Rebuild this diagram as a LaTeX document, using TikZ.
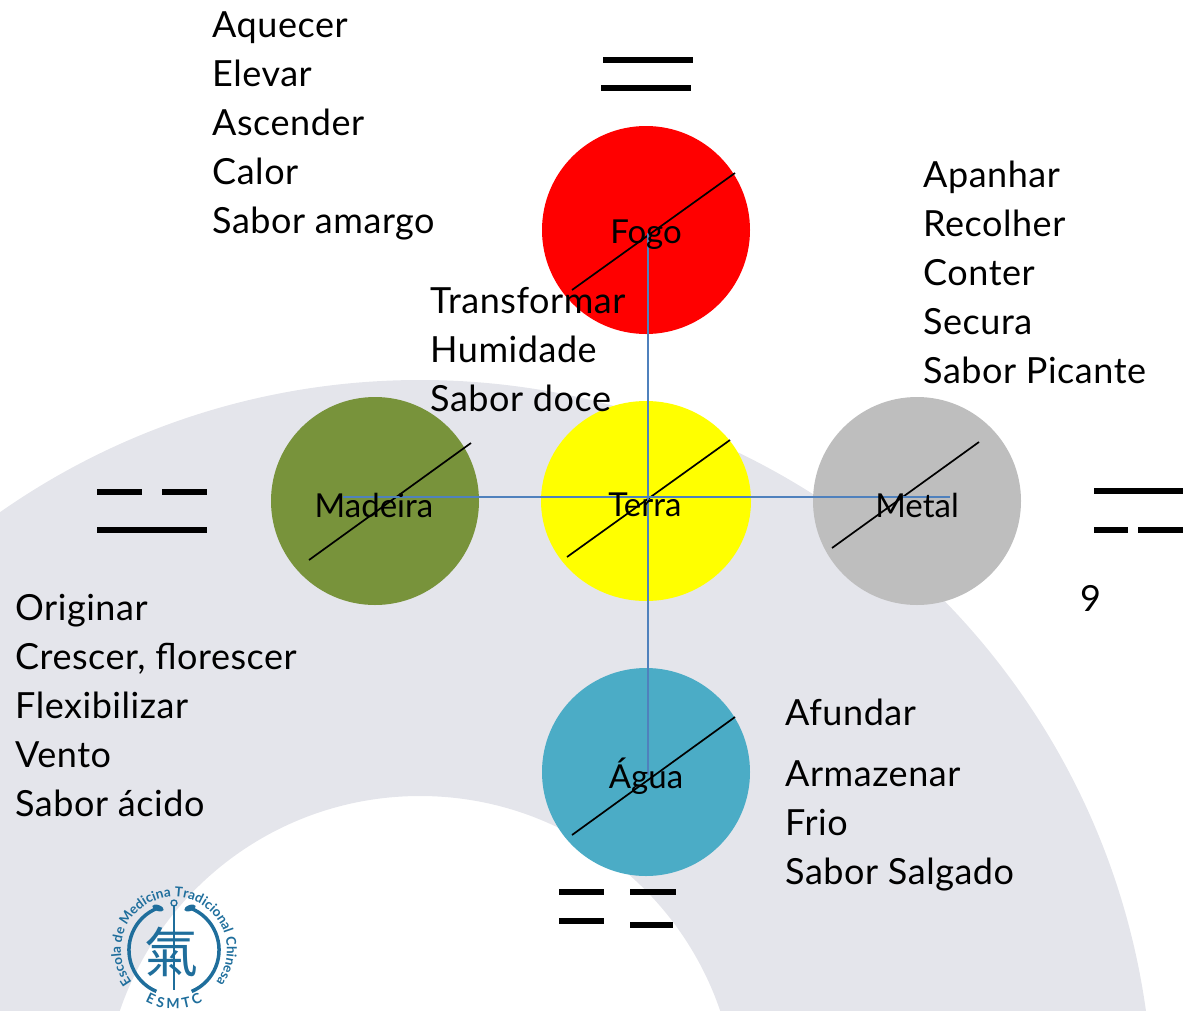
\documentclass[tikz,border=0pt]{standalone}
\usepackage{fontspec}
\setmainfont{Lato}
\newfontfamily\infofont[LetterSpace=1.5]{Lato}
\newfontfamily\cjk{Noto Sans CJK TC}
\usetikzlibrary{decorations.text,shapes.geometric}
\definecolor{bandgrey}{HTML}{E4E5EB}
\definecolor{firered}{HTML}{FF0000}
\definecolor{woodgreen}{HTML}{78933B}
\definecolor{earthyellow}{HTML}{FFFF00}
\definecolor{metalgrey}{HTML}{BEBEBE}
\definecolor{waterblue}{HTML}{4BACC6}
\definecolor{axisblue}{HTML}{4F81BD}
\definecolor{logoblue}{HTML}{1F6E9C}
\tikzset{
  x=1pt,y=-1pt,
  element/.style={circle,minimum size=208pt,inner sep=0pt},
  elabel/.style={font=\fontsize{33}{36}\selectfont},
  infotext/.style={anchor=north west,inner sep=0pt,align=left,font=\infofont\fontsize{36}{49}\selectfont},
  diag/.style={black,line width=1.7pt},
  axisline/.style={axisblue,line width=2pt},
  bar/.style={black,line width=6pt},
  logoarc/.style={logoblue,line width=3.5pt},
}
\begin{document}
\begin{tikzpicture}
\useasboundingbox (0,0) rectangle (1183,1010);
\begin{scope}
\clip (0,0) rectangle (1183,1010);
\fill[bandgrey,even odd rule] (420,1113) circle[radius=733pt] (420,1113) circle[radius=317pt];
\end{scope}
\node[element,fill=firered] (fogo) at (646,230) {};
\node[element,fill=woodgreen] (madeira) at (375,501) {};
\node[ellipse,inner sep=0pt,minimum width=210pt,minimum height=200pt,fill=earthyellow] (terra) at (646,501) {};
\node[element,fill=metalgrey] (metal) at (917,501) {};
\node[element,fill=waterblue] (agua) at (646,772) {};
\coordinate (f1) at (572,290); \coordinate (f2) at (735,173);
\coordinate (m1) at (309,560); \coordinate (m2) at (471,443);
\coordinate (t1) at (567,557); \coordinate (t2) at (730,440);
\coordinate (e1) at (832,548); \coordinate (e2) at (979,442);
\coordinate (a1) at (572,835); \coordinate (a2) at (735,717);
\draw[diag] (f1)--(f2);
\draw[diag] (m1)--(m2);
\draw[diag] (t1)--(t2);
\draw[diag] (e1)--(e2);
\draw[diag] (a1)--(a2);
\coordinate (axT) at (648,233); \coordinate (axB) at (648,775);
\coordinate (axL) at (343,497); \coordinate (axR) at (950,497);
\draw[axisline] (axT)--(axB);
\draw[axisline] (axL)--(axR);
\node[elabel] (lf) at (646,235) {Fogo};
\node[elabel] (lm) at (374,505) {Madeira};
\node[elabel] (lt) at (645,505) {Terra};
\node[elabel] (le) at (917,505) {Metal};
\node[elabel] (la) at (646,776) {Água};
\draw[bar] (603,60)--(693,60);
\draw[bar] (601,88)--(691,88);
\draw[bar] (97,492)--(142,492);
\draw[bar] (162,492)--(207,492);
\draw[bar] (97,530)--(207,530);
\draw[bar] (1094,491)--(1183,491);
\draw[bar] (1094,530)--(1128,530);
\draw[bar] (1138,530)--(1183,530);
\draw[bar] (559,892)--(604,892);
\draw[bar] (630,892)--(676,892);
\draw[bar] (559,921)--(604,921);
\draw[bar] (630,925)--(673,925);
\node[infotext] (t-fogo) at (212,11) {Aquecer\\Elevar\\Ascender\\Calor\\Sabor amargo};
\node[infotext] (t-terra) at (430,287) {Transformar\\Humidade\\Sabor doce};
\node[infotext] (t-metal) at (923,161) {Apanhar\\Recolher\\Conter\\Secura\\Sabor Picante};
\node[infotext] (t-madeira) at (15,594) {Originar\\Crescer, florescer\\Flexibilizar\\Vento\\Sabor ácido};
\node[infotext] (t-agua) at (785,699) {Afundar\\[12pt]Armazenar\\Frio\\Sabor Salgado};
\node[infotext] (t-nine) at (1080,585) {9};
\begin{scope}[shift={(174,950)}]
\draw[logoarc] (-16.9,-41.7) arc[start angle=112,end angle=247,radius=45pt];
\draw[logoarc] (16.9,-41.7) arc[start angle=68,end angle=-67,radius=45pt];
\fill[logoblue,rotate around={-20:(-16,-42)}] (-16,-42) ellipse[x radius=6pt,y radius=3pt];
\fill[logoblue,rotate around={20:(16,-42)}] (16,-42) ellipse[x radius=6pt,y radius=3pt];
\draw[logoblue,line width=1.6pt] (0,-44)--(0,40);
\draw[logoblue,line width=1.3pt] (0,-47) circle[radius=3pt];
\node[logoblue,font=\cjk\fontsize{54}{54}\selectfont] (qi) at (-3,2) {氣};
\path[decorate,decoration={text along path,text align=center,
  text={|\bfseries\fontsize{13.5}{14}\selectfont\color{logoblue}|Escola de Medicina Tradicional Chinesa}}]
  (-37.5,37.5) arc[start angle=225,end angle=-45,radius=53pt];
\path[decorate,decoration={text along path,text align=center,
  text={|\bfseries\fontsize{14}{14}\selectfont\color{logoblue}|E S M T C}}]
  (-33,49) arc[start angle=236,end angle=304,radius=59pt];
\end{scope}
\end{tikzpicture}
\end{document}
